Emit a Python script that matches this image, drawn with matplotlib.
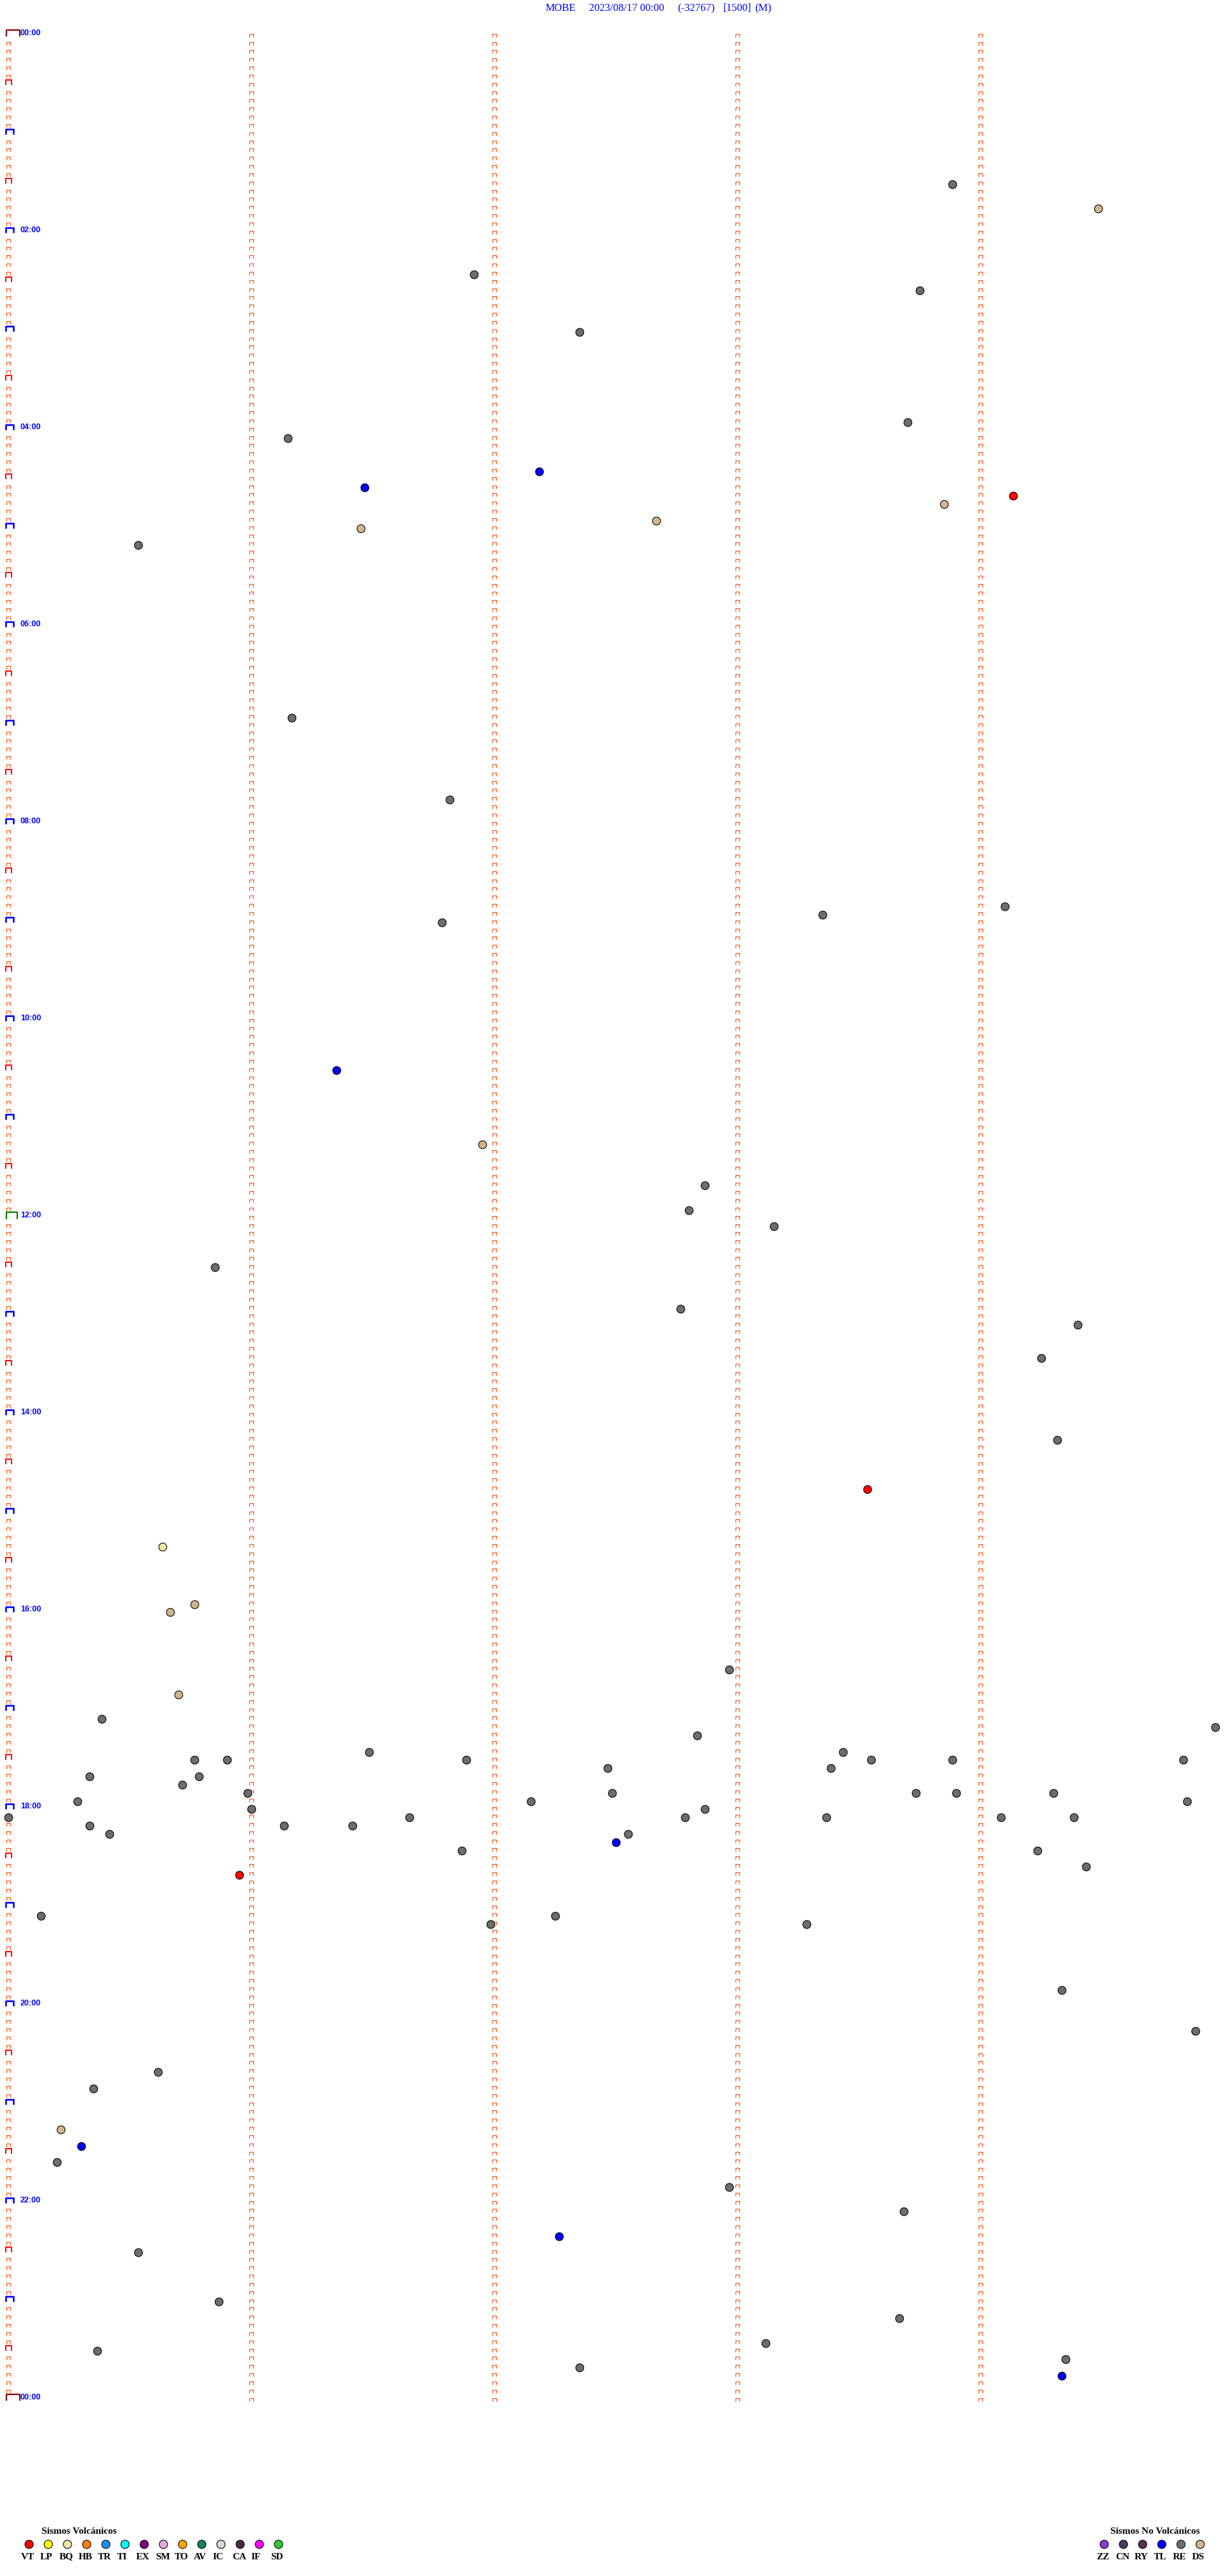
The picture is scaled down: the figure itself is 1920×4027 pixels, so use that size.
import matplotlib
matplotlib.use("Agg")
from matplotlib import pyplot as plt
from matplotlib.path import Path


# header
station = "MOBE"
start_label = "2023/08/17 00:00"
clip_value = "(-32767)"
scale_value = "[1500]"
mode_label = "(M)"

# helicorder layout: 288 rows of 5 minutes, ticks every minute
row_minutes = 5
n_rows = 288
hour_labels = ["00:00", "02:00", "04:00", "06:00", "08:00", "10:00", "12:00",
               "14:00", "16:00", "18:00", "20:00", "22:00", "00:00"]

# detected events (time of day, type)
event_times = [
    "01:33:53", "01:49:29", "02:26:55", "02:38:45", "03:02:21", "03:58:42",
    "04:06:09", "04:27:11", "04:36:28", "04:44:08", "04:48:51", "04:57:40",
    "05:01:27", "05:10:32", "06:56:10", "07:46:49", "08:54:06", "08:58:21",
    "09:01:47", "10:31:21", "11:16:57", "11:42:52", "11:57:48", "12:08:09",
    "12:30:51", "12:57:46", "13:09:24", "13:29:15", "14:19:19", "14:48:32",
    "15:20:38", "15:55:46", "16:00:40", "16:37:58", "16:50:42", "17:05:23",
    "17:14:58", "17:17:50", "17:26:29", "17:28:26", "17:30:46", "17:30:54",
    "17:31:53", "17:33:33", "17:33:53", "17:34:50", "17:37:28", "17:38:23",
    "17:40:20", "17:40:47", "17:45:43", "17:50:59", "17:52:29", "17:53:44",
    "17:53:54", "17:54:18", "17:55:17", "17:57:09", "17:59:51", "18:01:00",
    "18:02:52", "18:05:00", "18:06:39", "18:07:47", "18:08:22", "18:09:05",
    "18:09:23", "18:10:20", "18:11:08", "18:11:25", "18:15:25", "18:17:33",
    "18:22:30", "18:26:52", "18:29:14", "18:39:26", "18:40:57", "19:05:08",
    "19:07:15", "19:11:59", "19:13:17", "19:54:20", "20:19:53", "20:40:37",
    "20:50:21", "21:15:13", "21:25:18", "21:35:12", "21:52:58", "22:08:41",
    "22:22:16", "22:30:32", "23:00:52", "23:13:40", "23:28:07", "23:30:22",
    "23:39:21", "23:42:21", "23:49:20",
]
event_types = [
    "RE", "DS", "RE", "RE", "RE", "RE",
    "RE", "TL", "TL", "VT", "DS", "DS",
    "DS", "RE", "RE", "RE", "RE", "RE",
    "RE", "TL", "DS", "RE", "RE", "RE",
    "RE", "RE", "RE", "RE", "RE", "VT",
    "BQ", "DS", "DS", "RE", "DS", "RE",
    "RE", "RE", "RE", "RE", "RE", "RE",
    "RE", "RE", "RE", "RE", "RE", "RE",
    "RE", "RE", "RE", "RE", "RE", "RE",
    "RE", "RE", "RE", "RE", "RE", "RE",
    "RE", "RE", "RE", "RE", "RE", "RE",
    "RE", "RE", "RE", "RE", "RE", "RE",
    "TL", "RE", "RE", "RE", "VT", "RE",
    "RE", "RE", "RE", "RE", "RE", "RE",
    "RE", "DS", "TL", "RE", "RE", "RE",
    "TL", "RE", "RE", "RE", "RE", "RE",
    "RE", "RE", "TL",
]

volcanic_types = ["VT", "LP", "BQ", "HB", "TR", "TI", "EX", "SM", "TO", "AV",
                  "IC", "CA", "IF", "SD"]
volcanic_colors = ["#ff0000", "#ffff00", "#f0e6a8", "#ff8000", "#1e90ff",
                   "#00ffff", "#800080", "#e8a8e8", "#ffa500", "#1a806a",
                   "#d8d8d8", "#4a2a45", "#ff00ff", "#32c832"]
nonvolcanic_types = ["ZZ", "CN", "RY", "TL", "RE", "DS"]
nonvolcanic_colors = ["#8a3ad8", "#4e3a5e", "#553050", "#0000ff", "#6c6e6c",
                      "#d2b48c"]

type_colors = dict(zip(volcanic_types + nonvolcanic_types,
                       volcanic_colors + nonvolcanic_colors))


def cap_marker(w, h):
    verts = [(-w / 2, -h / 2), (-w / 2, h / 2), (w / 2, h / 2), (w / 2, -h / 2)]
    return Path(verts, [Path.MOVETO, Path.LINETO, Path.LINETO, Path.LINETO])


W, H = 1920, 4027
px = 72 / 100  # points per pixel
row_px = 12.833
x0, x1 = 13, 13 + 380 * row_minutes
y0 = 51
y1 = y0 + n_rows * row_px

fig = plt.figure(figsize=(W / 100, H / 100), dpi=100)
fig.patch.set_facecolor("white")
ax = fig.add_axes([x0 / W, 1 - y1 / H, (x1 - x0) / W, (y1 - y0) / H])
ax.set_xlim(0, row_minutes)
ax.set_ylim(n_rows, 0)
ax.axis("off")

# small trace ticks
rows = list(range(n_rows + 1))
small = cap_marker(6, 5)
for col in range(row_minutes):
    ys = [r + 0.29 for r in rows if not (col == 0 and r % 6 == 0)]
    ax.plot([col] * len(ys), ys, linestyle="none", marker=small,
            markersize=6 * px, markeredgewidth=1.1 * px,
            markeredgecolor="#ff4500", markerfacecolor="none", clip_on=False)

# special ticks on first column
half = [r for r in rows if r % 6 == 0 and r % 12 != 0]
hours = [r for r in rows if r % 12 == 0 and r not in (0, 144, n_rows)]
ax.plot([0] * len(half), [r + 0.08 for r in half], linestyle="none",
        marker=cap_marker(9, 8), markersize=9 * px, markeredgewidth=2 * px,
        markeredgecolor="#ff0000", markerfacecolor="none", clip_on=False)
ax.plot([0.005] * len(hours), [r + 0.1 for r in hours], linestyle="none",
        marker=cap_marker(12, 8), markersize=12 * px, markeredgewidth=2.6 * px,
        markeredgecolor="#0000ff", markerfacecolor="none", clip_on=False)
ax.plot([0.018, 0.018], [0.05, n_rows + 0.05], linestyle="none",
        marker=cap_marker(21, 10), markersize=21 * px, markeredgewidth=2.2 * px,
        markeredgecolor="#8b0000", markerfacecolor="none", clip_on=False)
ax.plot([0.012], [144.05], linestyle="none",
        marker=cap_marker(17, 11), markersize=17 * px, markeredgewidth=2.2 * px,
        markeredgecolor="#008000", markerfacecolor="none", clip_on=False)

for i, lab in enumerate(hour_labels):
    ax.text(0.05, i * 24 + 0.08, lab, ha="left", va="center", color="#0000ff",
            fontsize=9, fontweight="bold", family="Liberation Sans")

# events
for t, kind in zip(event_times, event_types):
    h, m, s = [int(v) for v in t.split(":")]
    minutes = h * 60 + m + s / 60
    row = int(minutes // row_minutes)
    offset = minutes - row * row_minutes
    ax.plot(offset, row + 0.43, marker="o", markersize=12.5 * px,
            markerfacecolor=type_colors[kind], markeredgecolor="black",
            markeredgewidth=1.1 * px, clip_on=False, zorder=5)

# header and legends in pixel coordinates
lax = fig.add_axes([0, 0, 1, 1])
lax.set_xlim(0, W)
lax.set_ylim(H, 0)
lax.axis("off")

title_parts = [station, start_label, clip_value, scale_value, mode_label]
title_x = [853, 921, 1059, 1131, 1180]
for part, x in zip(title_parts, title_x):
    lax.text(x, 13, part, ha="left", va="center", color="#0000ff",
             fontsize=12, family="Liberation Serif")

legend_font = dict(family="Liberation Serif", fontweight="bold", color="black")
lax.text(124, 3957, "Sismos Volcánicos", ha="center", va="center",
         fontsize=11, **legend_font)
for i, (lab, col) in enumerate(zip(volcanic_types, volcanic_colors)):
    cx = 45 + 30 * i
    lax.plot(cx, 3977, marker="o", markersize=13 * px, markerfacecolor=col,
             markeredgecolor="black", markeredgewidth=1.1 * px)
    lax.text(cx - 12, 3997, lab, ha="left", va="center", fontsize=11,
             **legend_font)

lax.text(1806, 3957, "Sismos No Volcánicos", ha="center", va="center",
         fontsize=11, **legend_font)
for i, (lab, col) in enumerate(zip(nonvolcanic_types, nonvolcanic_colors)):
    cx = 1726 + 30 * i
    lax.plot(cx, 3977, marker="o", markersize=13 * px, markerfacecolor=col,
             markeredgecolor="black", markeredgewidth=1.1 * px)
    lax.text(cx - 12, 3997, lab, ha="left", va="center", fontsize=11,
             **legend_font)

fig.savefig("out.png", dpi=100, facecolor="white")
